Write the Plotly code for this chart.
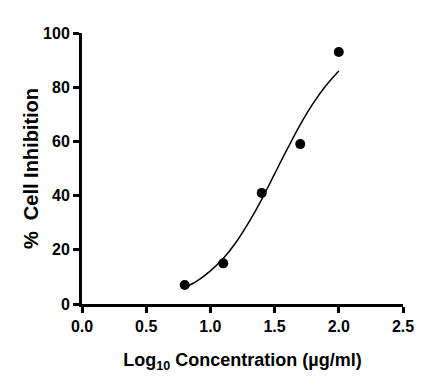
import plotly.graph_objects as go

# Observed data
log_conc = [0.8, 1.1, 1.4, 1.7, 2.0]
inhibition = [7, 15, 41, 59, 93]

# Fitted curve
fit_x = [0.8, 0.9, 1.0, 1.1, 1.2, 1.3, 1.4, 1.5, 1.6, 1.7, 1.8, 1.9, 2.0]
fit_y = [6.0, 8.6, 12.2, 16.8, 22.8, 30.2, 38.6, 48.0, 57.3, 66.2, 74.0, 80.6, 86.0]

x_ticks = [0.0, 0.5, 1.0, 1.5, 2.0, 2.5]
x_tick_labels = ["0.0", "0.5", "1.0", "1.5", "2.0", "2.5"]
y_ticks = [0, 20, 40, 60, 80, 100]
y_tick_labels = ["0", "20", "40", "60", "80", "100"]

FONT = "Liberation Sans, Arial, sans-serif"

fig = go.Figure()
fig.add_trace(go.Scatter(x=fit_x, y=fit_y, mode="lines", line=dict(color="black", width=1.5, shape="spline"),
                         hoverinfo="skip", showlegend=False))
fig.add_trace(go.Scatter(x=log_conc, y=inhibition, mode="markers",
                         marker=dict(color="black", size=10), showlegend=False, cliponaxis=False))

fig.update_layout(
    width=447, height=392,
    margin=dict(l=82, r=44, t=33, b=88),
    plot_bgcolor="white", paper_bgcolor="white",
    font=dict(family=FONT, color="black"),
)
fig.update_xaxes(
    range=[0, 2.5], tickvals=x_ticks, ticktext=x_tick_labels, automargin=False,
    showgrid=False, zeroline=False, showline=True, linecolor="black", linewidth=3,
    ticks="outside", ticklen=6, tickwidth=2.5, tickcolor="black",
    tickfont=dict(family=FONT, size=16, color="black", weight="bold"),
    title=dict(text="Log<sub>10</sub> Concentration (µg/ml)",
               font=dict(family=FONT, size=18, color="black", weight="bold"),
               standoff=20),
)
fig.update_yaxes(
    range=[0, 100], tickvals=y_ticks, ticktext=y_tick_labels, automargin=False,
    showgrid=False, zeroline=False, showline=True, linecolor="black", linewidth=3,
    ticks="outside", ticklen=6, tickwidth=2.5, tickcolor="black",
    tickfont=dict(family=FONT, size=16, color="black", weight="bold"),
    title=dict(text="%  Cell Inhibition",
               font=dict(family=FONT, size=20, color="black", weight="bold"),
               standoff=0),
)

fig.write_html("out.html", config={"displayModeBar": False},
               post_script="document.body.style.margin='0';document.body.style.overflow='hidden';")
